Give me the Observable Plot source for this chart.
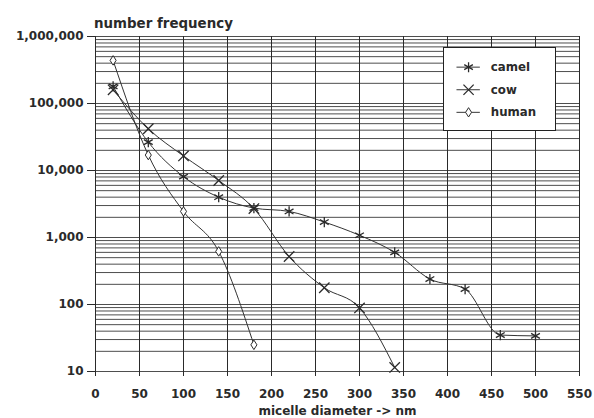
<!DOCTYPE html>
<html><head><meta charset="utf-8">
<script src="https://cdn.jsdelivr.net/npm/d3@7"></script>
<script src="https://cdn.jsdelivr.net/npm/@observablehq/plot@0.6"></script>
<style>
html,body{margin:0;padding:0;background:#fff;}
#wrap{position:relative;width:594px;height:418px;}
#wrap svg.legend{position:absolute;left:443px;top:47px;border:1.2px solid #222;box-sizing:border-box;}
</style></head><body><div id="wrap"></div>
<script>
// ---- data ----
const seriesNames = ["camel", "cow", "human"];
const camelX = [20, 60, 100, 140, 180, 220, 260, 300, 340, 380, 420, 460, 500];
const camelY = [180000, 26500, 8100, 4000, 2750, 2450, 1700, 1080, 600, 240, 170, 35, 34];
const cowX = [20, 60, 100, 140, 180, 220, 260, 300, 340];
const cowY = [160000, 42000, 16500, 7100, 2700, 520, 178, 89, 11.5];
const humanX = [20, 60, 100, 140, 180];
const humanY = [440000, 17000, 2450, 620, 25];
const xTicks = [0, 50, 100, 150, 200, 250, 300, 350, 400, 450, 500, 550];
const yTicks = [10, 100, 1000, 10000, 100000, 1000000];
const yGrid = [10, 100, 1000, 10000, 100000].flatMap(d => [1,2,3,4,5,6,7,8,9].map(k => k * d)).concat([1000000]);

const rows = [
  ...camelX.map((x, i) => ({series: "camel", x, y: camelY[i]})),
  ...cowX.map((x, i) => ({series: "cow", x, y: cowY[i]})),
  ...humanX.map((x, i) => ({series: "human", x, y: humanY[i]}))
];

const tallDiamond = {
  draw(ctx, size) {
    const r = Math.sqrt(size / Math.PI);
    ctx.moveTo(0, -r * 1.25);
    ctx.lineTo(r * 0.8, 0);
    ctx.lineTo(0, r * 1.25);
    ctx.lineTo(-r * 0.8, 0);
    ctx.closePath();
  }
};
const symbolOf = {camel: "asterisk", cow: "times", human: tallDiamond};
const ink = "#2a2a2a";

function seriesDots(data, name) {
  return Plot.dot(data.filter(d => d.series === name), {
    x: "x", y: "y", symbol: symbolOf[name], r: name === "human" ? 3.8 : 4.8,
    stroke: ink, strokeWidth: name === "human" ? 1 : 1.3, fill: name === "human" ? "white" : "none"
  });
}

const chart = Plot.plot({
  width: 594, height: 418,
  marginLeft: 95, marginRight: 15, marginTop: 36, marginBottom: 47,
  style: {fontFamily: "DejaVu Sans", fontWeight: "bold", fontSize: "12px", color: ink, background: "white"},
  x: {domain: [0, 550]},
  y: {type: "log", domain: [10, 1000000]},
  marks: [
    Plot.ruleY(yGrid, {stroke: "#3a3a3a", strokeWidth: 0.9}),
    Plot.ruleX(xTicks, {stroke: "#2a2a2a", strokeWidth: 1}),
    Plot.axisX({ticks: xTicks, tickSize: 5, tickPadding: 13, label: null, tickFormat: d => d}),
    Plot.axisY({ticks: yTicks, tickSize: 8, tickPadding: 4, label: null, tickFormat: ","}),
    Plot.line(rows, {x: "x", y: "y", z: "series", curve: "monotone-x", stroke: "#333", strokeWidth: 1}),
    seriesDots(rows, "camel"),
    seriesDots(rows, "cow"),
    seriesDots(rows, "human"),
    Plot.text(["number frequency"], {frameAnchor: "top-left", dx: -1.5, dy: -13, textAnchor: "start", lineAnchor: "middle", fontSize: 13.4}),
    Plot.text(["micelle diameter -> nm"], {frameAnchor: "bottom", dy: 40, lineAnchor: "middle"})
  ]
});
document.getElementById("wrap").appendChild(chart);

const legendRows = seriesNames.map(s => ({series: s}));
const legend = Plot.plot({
  width: 113, height: 83,
  marginLeft: 12.7, marginRight: 76.5, marginTop: 0, marginBottom: 0,
  style: {fontFamily: "DejaVu Sans", fontWeight: "bold", fontSize: "12px", color: ink, background: "white"},
  y: {type: "point", domain: seriesNames, range: [18.5, 65.5], padding: 0, axis: null},
  marks: [
    Plot.ruleY(legendRows, {y: "series", stroke: "#333", strokeWidth: 1}),
    ...seriesNames.map(s => Plot.dot(legendRows.filter(d => d.series === s), {
      y: "series", frameAnchor: "left", dx: 11.8, symbol: symbolOf[s], r: s === "human" ? 3.8 : 4.8,
      stroke: ink, strokeWidth: s === "human" ? 1 : 1.3, fill: s === "human" ? "white" : "none"
    })),
    Plot.text(legendRows, {y: "series", text: "series", frameAnchor: "left", dx: 34.5, textAnchor: "start", lineAnchor: "middle"})
  ]
});
legend.classList.add("legend");
document.getElementById("wrap").appendChild(legend);
</script>
</body></html>
